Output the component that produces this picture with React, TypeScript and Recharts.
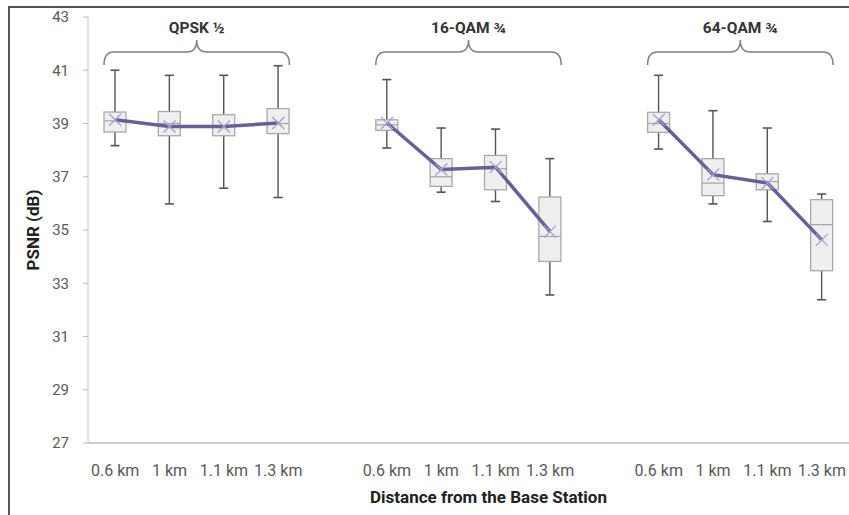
import React from 'react';
import {
  ComposedChart,
  Bar,
  Line,
  XAxis,
  YAxis,
  ReferenceArea,
} from 'recharts';

// Box-plot statistics of PSNR (dB), 4 distances per modulation scheme
const schemes = ['QPSK ½', '16-QAM ¾', '64-QAM ¾'];
const distances = ['0.6 km', '1 km', '1.1 km', '1.3 km'];

const minValues = [
  38.17, 35.98, 36.57, 36.22,
  38.08, 36.42, 36.07, 32.56,
  38.04, 35.98, 35.32, 32.38,
];
const q1Values = [
  38.68, 38.54, 38.54, 38.62,
  38.74, 36.64, 36.51, 33.82,
  38.67, 36.29, 36.51, 33.47,
];
const medianValues = [
  39.1, 39.0, 38.9, 39.0,
  38.95, 37.0, 37.3, 34.76,
  39.0, 36.76, 36.82, 35.2,
];
const q3Values = [
  39.43, 39.45, 39.33, 39.56,
  39.14, 37.68, 37.8, 36.24,
  39.42, 37.68, 37.11, 36.14,
];
const maxValues = [
  41.0, 40.81, 40.81, 41.17,
  40.65, 38.83, 38.79, 37.68,
  40.81, 39.48, 38.83, 36.35,
];
const meanValues = [
  39.14, 38.89, 38.89, 39.02,
  39.02, 37.27, 37.36, 34.94,
  39.14, 37.08, 36.76, 34.63,
];

const yTicks = [27, 29, 31, 33, 35, 37, 39, 41, 43];

type Row = {
  slot: string;
  label: string;
  range: [number, number] | null;
  min?: number;
  q1?: number;
  median?: number;
  q3?: number;
  max?: number;
  mean: number | null;
};

// one empty slot between the scheme groups
const rows: Row[] = [];
schemes.forEach((scheme, g) => {
  if (g > 0) rows.push({ slot: `gap${g}`, label: '', range: null, mean: null });
  distances.forEach((d, i) => {
    const k = g * distances.length + i;
    rows.push({
      slot: `${scheme}|${d}`,
      label: d,
      range: [minValues[k], maxValues[k]],
      min: minValues[k],
      q1: q1Values[k],
      median: medianValues[k],
      q3: q3Values[k],
      max: maxValues[k],
      mean: meanValues[k],
    });
  });
});

const labelOf: Record<string, string> = {};
rows.forEach((r) => (labelOf[r.slot] = r.label));

const FONT = 'Roboto, "Open Sans", sans-serif';
const TEXT = '#595959';

// whiskers + box + median, positioned from the bar's min..max extent
const BoxPlotShape = (props: any) => {
  const { x, y, width, height, payload } = props;
  if (!payload || payload.range == null) return null;
  const { min, q1, median, q3, max } = payload;
  const k = height / (max - min);
  const py = (v: number) => y + (max - v) * k;
  const cx = x + width / 2;
  const cap = 4.5;
  return (
    <g>
      <line x1={cx} x2={cx} y1={py(max)} y2={py(min)} stroke="#555" strokeWidth={1.4} />
      <line x1={cx - cap} x2={cx + cap} y1={py(max)} y2={py(max)} stroke="#555" strokeWidth={1.6} />
      <line x1={cx - cap} x2={cx + cap} y1={py(min)} y2={py(min)} stroke="#555" strokeWidth={1.6} />
      <rect
        x={x}
        y={py(q3)}
        width={width}
        height={py(q1) - py(q3)}
        fill="#efefef"
        stroke="#a9a9a9"
        strokeWidth={1.3}
      />
      <line x1={x} x2={x + width} y1={py(median)} y2={py(median)} stroke="#a9a9a9" strokeWidth={1.3} />
    </g>
  );
};

const MeanMarker = (props: any) => {
  const { cx, cy, index } = props;
  if (cx == null || cy == null) return <g key={`m${index}`} />;
  const s = 6;
  return (
    <path
      key={`m${index}`}
      d={`M${cx - s},${cy - s}L${cx + s},${cy + s}M${cx - s},${cy + s}L${cx + s},${cy - s}`}
      stroke="#a89bd0"
      strokeWidth={1.3}
      fill="none"
    />
  );
};

// curly brace with the scheme name above it
const groupBrace = (name: string) => (props: any) => {
  const { x, y, width } = props;
  const x0 = x + 16;
  const x1 = x + width - 16;
  const cx = x + width / 2;
  const yTip = y + 23;
  const yMid = y + 35;
  const yEnd = y + 48;
  const r = 10;
  const d =
    `M${x0},${yEnd} Q${x0},${yMid} ${x0 + r},${yMid} L${cx - r},${yMid} ` +
    `Q${cx},${yMid} ${cx},${yTip} Q${cx},${yMid} ${cx + r},${yMid} ` +
    `L${x1 - r},${yMid} Q${x1},${yMid} ${x1},${yEnd}`;
  return (
    <g>
      <text
        x={cx}
        y={y + 16}
        textAnchor="middle"
        fontFamily={FONT}
        fontWeight="bold"
        fontSize={15.5}
        fill="#333"
      >
        {name}
      </text>
      <path d={d} fill="none" stroke="#808080" strokeWidth={1.5} />
    </g>
  );
};

export default function App() {
  return (
    <div style={{ position: 'absolute', left: 0, top: 0, width: 849, height: 515, background: '#fff' }}>
      <div
        style={{
          position: 'absolute',
          left: 8,
          top: 6,
          width: 841,
          height: 509,
          borderLeft: '2px solid #555',
          borderTop: '2px solid #555',
          boxSizing: 'border-box',
        }}
      />
      <ComposedChart
        width={849}
        height={515}
        data={rows}
        margin={{ top: 17, right: 0, bottom: 0, left: 0 }}
        style={{ position: 'absolute', left: 0, top: 0 }}
      >
        <XAxis
          dataKey="slot"
          type="category"
          interval={0}
          height={72}
          tickLine={false}
          tickSize={6}
          tickMargin={16}
          axisLine={{ stroke: '#bdbdbd', strokeWidth: 1.5 }}
          tick={{ fill: TEXT, fontSize: 16, fontFamily: FONT }}
          tickFormatter={(v: string) => labelOf[v]}
          label={(p: any) => {
            const vb = p.viewBox;
            return (
              <text
                x={vb.x + vb.width / 2 + 20}
                y={vb.y + 60}
                textAnchor="middle"
                fontFamily={FONT}
                fontWeight="bold"
                fontSize={17}
                fill="#222"
              >
                Distance from the Base Station
              </text>
            );
          }}
        />
        <YAxis
          type="number"
          domain={[27, 43]}
          ticks={yTicks}
          width={88}
          tickSize={5}
          tickMargin={14}
          tickLine={{ stroke: '#bdbdbd' }}
          axisLine={{ stroke: '#d9d9d9', strokeWidth: 1.5 }}
          tick={{ fill: TEXT, fontSize: 15, fontFamily: FONT }}
          label={(p: any) => {
            const vb = p.viewBox;
            const cx = vb.x + 33;
            const cy = vb.y + vb.height / 2;
            return (
              <text
                x={cx}
                y={cy}
                transform={`rotate(-90 ${cx} ${cy})`}
                textAnchor="middle"
                dominantBaseline="central"
                fontFamily={FONT}
                fontWeight="bold"
                fontSize={17}
                fill="#222"
              >
                PSNR (dB)
              </text>
            );
          }}
        />
        {schemes.map((s) => (
          <ReferenceArea
            key={s}
            x1={`${s}|${distances[0]}`}
            x2={`${s}|${distances[distances.length - 1]}`}
            y1={41.1}
            y2={43}
            ifOverflow="visible"
            shape={groupBrace(s)}
          />
        ))}
        <Bar dataKey="range" barSize={22} shape={BoxPlotShape} isAnimationActive={false} />
        <Line
          dataKey="mean"
          type="linear"
          stroke="#6c5d98"
          strokeWidth={3.5}
          dot={MeanMarker}
          activeDot={false}
          isAnimationActive={false}
        />
      </ComposedChart>
    </div>
  );
}
